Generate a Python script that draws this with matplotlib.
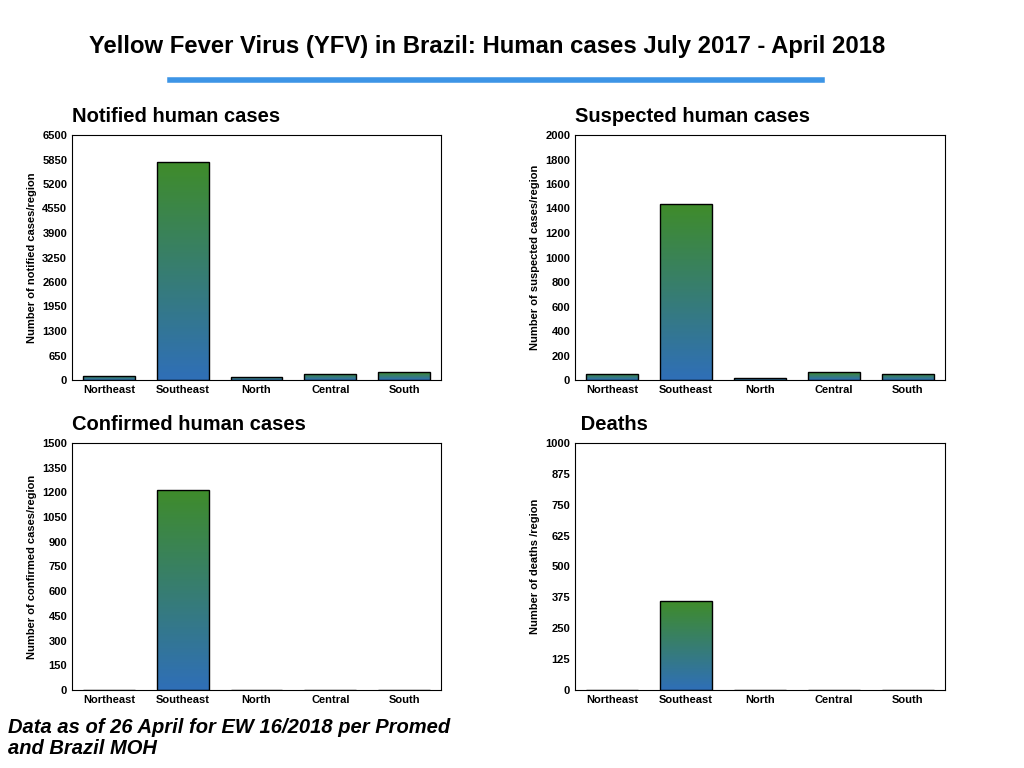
import numpy as np
import matplotlib.pyplot as plt
from matplotlib.colors import LinearSegmentedColormap

plt.rcParams['font.family'] = ['Liberation Sans', 'DejaVu Sans']

regions = ['Northeast', 'Southeast', 'North', 'Central', 'South']
notified = [110, 5780, 80, 160, 210]
suspected = [50, 1436, 20, 65, 50]
confirmed = [0, 1215, 0, 0, 0]
deaths = [0, 360, 0, 0, 0]

panels = [
    ('Notified human cases', notified, 'Number of notified cases/region', 6500, 650, [72, 135, 441, 380]),
    ('Suspected human cases', suspected, 'Number of suspected cases/region', 2000, 200, [575, 135, 945, 380]),
    ('Confirmed human cases', confirmed, 'Number of confirmed cases/region', 1500, 150, [72, 443, 441, 690]),
    (' Deaths', deaths, 'Number of deaths /region', 1000, 125, [575, 443, 945, 690]),
]

W, H = 1024, 768
cmap = LinearSegmentedColormap.from_list('g', ['#2f6fb8', '#3f8c2a'])
grad = np.linspace(0, 1, 256).reshape(-1, 1)

fig = plt.figure(figsize=(W/100, H/100), dpi=100)
fig.text(487/W, 1-46/H, 'Yellow Fever Virus (YFV) in Brazil: Human cases July 2017 - April 2018',
         ha='center', va='center', fontsize=17.2, fontweight='bold')
fig.add_artist(plt.Line2D([170/W, 822/W], [1-80/H, 1-80/H], color='#3d95e6', lw=4))
fig.text(8/W, 1-738/H, 'Data as of 26 April for EW 16/2018 per Promed\nand Brazil MOH',
         ha='left', va='center', fontsize=14.5, fontweight='bold', style='italic', linespacing=1.15)

for title, vals, ylab, ymax, step, (x0, y0, x1, y1) in panels:
    ax = fig.add_axes([x0/W, 1-y1/H, (x1-x0)/W, (y1-y0)/H])
    bars = ax.bar(regions, vals, width=0.7, color='none', edgecolor='black', lw=1, zorder=3)
    for b in bars:
        h = b.get_height()
        if h <= 0:
            continue
        xl = b.get_x()
        im = ax.imshow(grad, cmap=cmap, origin='lower', aspect='auto',
                       extent=[xl, xl + b.get_width(), 0, h], zorder=2)
        im.set_clip_path(b)
    ax.set_xlim(-0.5, 4.5)
    ax.set_ylim(0, ymax)
    ax.set_yticks(np.arange(0, ymax + 1, step))
    ax.tick_params(labelsize=8, length=0)
    for t in ax.get_xticklabels() + ax.get_yticklabels():
        t.set_fontweight('bold')
    ax.set_ylabel(ylab, fontsize=8, fontweight='bold')
    ax.set_title(title, loc='left', fontsize=14.5, fontweight='bold', pad=9)

fig.savefig('out.png', dpi=100)
